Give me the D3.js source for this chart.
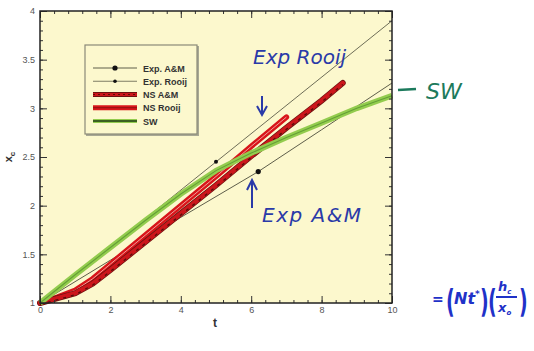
<!DOCTYPE html>
<html lang="en">
<head>
    <meta charset="UTF-8">
    <title>x_c vs t</title>
    <script src="https://d3js.org/d3.v7.min.js"></script>
    <style>
        body { margin: 0; background: #fff; font-family: "Liberation Sans", Arial, sans-serif; }
        svg { display: block; }
    </style>
</head>
<body>
    <div id="chart"></div>

    <script>
        // series
        const expAMT = [0, 2, 4, 6.2, 8, 10];
        const expAMX = [1, 1.44, 1.88, 2.35, 2.78, 3.26];
        const expAMMarkT = [6.2];
        const expAMMarkX = [2.35];

        const expRooijT = [0, 5, 10];
        const expRooijX = [1, 2.45, 3.9];
        const expRooijMarkT = [5];
        const expRooijMarkX = [2.45];

        const nsAMT = [0, 0.5, 1, 1.5, 2, 3, 4, 5, 6, 7, 8, 8.6];
        const nsAMX = [1, 1.05, 1.1, 1.2, 1.34, 1.63, 1.92, 2.21, 2.51, 2.8, 3.08, 3.26];

        const nsRooijT = [0, 0.5, 1, 1.5, 2, 3, 4, 5, 6, 7];
        const nsRooijX = [1, 1.06, 1.13, 1.25, 1.4, 1.7, 2.0, 2.3, 2.61, 2.91];

        const swT = [0, 1, 2, 3, 4, 5, 6, 7, 8, 9, 10];
        const swX = [1, 1.29, 1.57, 1.85, 2.12, 2.36, 2.54, 2.7, 2.85, 3.0, 3.13];

        const legendLabels = ["Exp. A&M", "Exp. Rooij", "NS A&M", "NS Rooij", "SW"];
        const xTicks = [0, 2, 4, 6, 8, 10];
        const yTicks = [1, 1.5, 2, 2.5, 3, 3.5, 4];

        const W = 534, H = 351;
        const pLeft = 40, pRight = 392, pTop = 11, pBottom = 303;

        const svg = d3.select("#chart").append("svg")
            .attr("width", W).attr("height", H);

        const x = d3.scaleLinear().domain([0, 10]).range([pLeft, pRight]);
        const y = d3.scaleLinear().domain([1, 4]).range([pBottom, pTop]);

        // plot background
        svg.append("rect")
            .attr("x", pLeft).attr("y", pTop)
            .attr("width", pRight - pLeft).attr("height", pBottom - pTop)
            .attr("fill", "#fcf8cd");

        const line = d3.line().x(d => x(d[0])).y(d => y(d[1]));
        const pts = (ts, xs) => ts.map((t, i) => [t, xs[i]]);

        const g = svg.append("g");

        // experimental lines
        g.append("path").datum(pts(expRooijT, expRooijX))
            .attr("d", line).attr("fill", "none")
            .attr("stroke", "#5e5e4a").attr("stroke-width", 0.9);
        g.append("path").datum(pts(expAMT, expAMX))
            .attr("d", line).attr("fill", "none")
            .attr("stroke", "#5e5e4a").attr("stroke-width", 1);

        // NS Rooij
        const rooij = pts(nsRooijT, nsRooijX);
        g.append("path").datum(rooij).attr("d", line).attr("fill", "none")
            .attr("stroke", "#d8151a").attr("stroke-width", 5.5).attr("stroke-linecap", "round");
        g.append("path").datum(rooij).attr("d", line).attr("fill", "none")
            .attr("stroke", "#f7c0b8").attr("stroke-width", 1).attr("opacity", 0.8);

        // NS A&M
        const am = pts(nsAMT, nsAMX);
        g.append("path").datum(am).attr("d", line).attr("fill", "none")
            .attr("stroke", "#6e1210").attr("stroke-width", 6).attr("stroke-linecap", "round");
        g.append("path").datum(am).attr("d", line).attr("fill", "none")
            .attr("stroke", "#cc161b").attr("stroke-width", 4.5).attr("stroke-linecap", "round");
        g.append("path").datum(am).attr("d", line).attr("fill", "none")
            .attr("stroke", "#5a0e0a").attr("stroke-width", 1.4)
            .attr("stroke-dasharray", "3,5")
            .attr("transform", "translate(0,1.5)");

        // SW
        const sw = pts(swT, swX);
        g.append("path").datum(sw).attr("d", line).attr("fill", "none")
            .attr("stroke", "#93cc4e").attr("stroke-width", 5.5);
        g.append("path").datum(sw).attr("d", line).attr("fill", "none")
            .attr("stroke", "#64a035").attr("stroke-width", 1.1);

        // markers
        g.selectAll(".mark-am").data(pts(expAMMarkT, expAMMarkX)).enter()
            .append("circle").attr("cx", d => x(d[0])).attr("cy", d => y(d[1]))
            .attr("r", 2.6).attr("fill", "#111");
        g.selectAll(".mark-rooij").data(pts(expRooijMarkT, expRooijMarkX)).enter()
            .append("circle").attr("cx", d => x(d[0])).attr("cy", d => y(d[1]))
            .attr("r", 2).attr("fill", "#111");

        // axes with inward ticks
        const minorX = d3.range(0, 10.01, 0.4).map(v => +v.toFixed(2));
        const minorY = d3.range(1, 4.001, 0.1).map(v => +v.toFixed(2));

        function styleAxis(sel) {
            sel.select(".domain").remove();
            sel.selectAll("line").attr("stroke", "#333");
            sel.selectAll("text").attr("fill", "#555").attr("font-size", 9)
                .attr("font-family", "Liberation Sans, Arial, sans-serif");
        }

        svg.append("g").attr("transform", `translate(0,${pBottom})`)
            .call(d3.axisBottom(x).tickValues(minorX).tickSize(-3).tickFormat(""))
            .call(styleAxis);
        svg.append("g").attr("transform", `translate(0,${pBottom})`)
            .call(d3.axisBottom(x).tickValues(xTicks).tickSize(-7).tickPadding(4).tickFormat(d3.format("d")))
            .call(styleAxis);
        svg.append("g").attr("transform", `translate(0,${pTop})`)
            .call(d3.axisTop(x).tickValues(minorX).tickSize(-3).tickFormat(""))
            .call(styleAxis);
        svg.append("g").attr("transform", `translate(0,${pTop})`)
            .call(d3.axisTop(x).tickValues(xTicks).tickSize(-7).tickFormat(""))
            .call(styleAxis);

        svg.append("g").attr("transform", `translate(${pLeft},0)`)
            .call(d3.axisLeft(y).tickValues(minorY).tickSize(-3).tickFormat(""))
            .call(styleAxis);
        svg.append("g").attr("transform", `translate(${pLeft},0)`)
            .call(d3.axisLeft(y).tickValues(yTicks).tickSize(-7).tickPadding(5).tickFormat(d => String(d)))
            .call(styleAxis);
        svg.append("g").attr("transform", `translate(${pRight},0)`)
            .call(d3.axisRight(y).tickValues(minorY).tickSize(-3).tickFormat(""))
            .call(styleAxis);
        svg.append("g").attr("transform", `translate(${pRight},0)`)
            .call(d3.axisRight(y).tickValues(yTicks).tickSize(-7).tickFormat(""))
            .call(styleAxis);

        // frame
        svg.append("rect")
            .attr("x", pLeft).attr("y", pTop)
            .attr("width", pRight - pLeft).attr("height", pBottom - pTop)
            .attr("fill", "none").attr("stroke", "#222").attr("stroke-width", 1.5);

        // axis titles
        svg.append("text").attr("x", 215).attr("y", 327)
            .attr("text-anchor", "middle").attr("font-size", 12).attr("font-weight", "bold")
            .attr("fill", "#333").text("t");
        const yt = svg.append("text")
            .attr("transform", "translate(12,157) rotate(-90)")
            .attr("text-anchor", "middle").attr("font-size", 11).attr("font-weight", "bold")
            .attr("fill", "#333");
        yt.append("tspan").text("x");
        yt.append("tspan").attr("font-size", 8).attr("dy", 3).text("c");

        // legend
        const lg = svg.append("g");
        lg.append("rect").attr("x", 86).attr("y", 46).attr("width", 113).attr("height", 90)
            .attr("fill", "#a8a894");
        lg.append("rect").attr("x", 85).attr("y", 45).attr("width", 112).attr("height", 89)
            .attr("fill", "#fcf8cd").attr("stroke", "#8a8a78").attr("stroke-width", 1.2);
        const rowY = d3.scalePoint().domain(legendLabels).range([68, 121]);
        legendLabels.forEach((lab, i) => {
            const yy = rowY(lab);
            const seg = [[93, yy], [137, yy]];
            const l2 = d3.line();
            if (i === 0 || i === 1) {
                lg.append("path").attr("d", l2(seg)).attr("stroke", "#5e5e4a").attr("stroke-width", i === 0 ? 1 : 0.8);
                lg.append("circle").attr("cx", 115).attr("cy", yy).attr("r", i === 0 ? 2.6 : 1.8).attr("fill", "#111");
            } else if (i === 2) {
                lg.append("path").attr("d", l2(seg)).attr("stroke", "#6e1210").attr("stroke-width", 5);
                lg.append("path").attr("d", l2(seg)).attr("stroke", "#cc161b").attr("stroke-width", 3);
                lg.append("path").attr("d", l2(seg)).attr("stroke", "#5a0e0a").attr("stroke-width", 1.2).attr("stroke-dasharray", "2,3");
            } else if (i === 3) {
                lg.append("path").attr("d", l2(seg)).attr("stroke", "#d8151a").attr("stroke-width", 5);
                lg.append("path").attr("d", l2(seg)).attr("stroke", "#8a1010").attr("stroke-width", 1);
            } else {
                lg.append("path").attr("d", l2(seg)).attr("stroke", "#93cc4e").attr("stroke-width", 4);
                lg.append("path").attr("d", l2(seg)).attr("stroke", "#1f3d14").attr("stroke-width", 1.5);
            }
            lg.append("text").attr("x", 143).attr("y", yy + 3.5)
                .attr("font-size", 9).attr("font-weight", "bold").attr("fill", "#333")
                .text(lab);
        });

        // handwritten annotations
        const ink = "#2a3aa8";
        svg.append("text").attr("x", 253).attr("y", 64)
            .attr("font-size", 20).attr("fill", ink).attr("font-family", "DejaVu Sans, sans-serif")
            .attr("font-style", "italic").text("Exp Rooij");
        svg.append("path").attr("d", "M262,96 L262,114").attr("stroke", ink).attr("stroke-width", 2);
        svg.append("path").attr("d", "M257,106 L262,115 L267,106").attr("fill", "none").attr("stroke", ink).attr("stroke-width", 2);

        svg.append("text").attr("x", 262).attr("y", 222)
            .attr("font-size", 20).attr("fill", ink).attr("font-family", "DejaVu Sans, sans-serif")
            .attr("font-style", "italic").attr("letter-spacing", 1.5).text("Exp A&M");
        svg.append("path").attr("d", "M252,208 L252,181").attr("stroke", ink).attr("stroke-width", 2);
        svg.append("path").attr("d", "M247,190 L252,180 L257,190").attr("fill", "none").attr("stroke", ink).attr("stroke-width", 2);

        const teal = "#1c7a5c";
        svg.append("path").attr("d", "M398,90 L416,89").attr("stroke", teal).attr("stroke-width", 2.5);
        svg.append("text").attr("x", 426).attr("y", 99)
            .attr("font-size", 22).attr("fill", teal).attr("font-family", "DejaVu Sans, sans-serif")
            .attr("font-style", "italic").text("SW");

        // formula, parentheses drawn as stretched glyphs
        const blue = "#1f32c8";
        const fg = svg.append("g").attr("fill", blue).attr("font-family", "DejaVu Sans, sans-serif")
            .attr("font-weight", "bold");
        fg.append("text").attr("x", 432).attr("y", 304).attr("font-size", 14).text("=");
        const paren = (px, ch) => fg.append("text")
            .attr("transform", `translate(${px},312) scale(1,1.7)`)
            .attr("font-size", 19).attr("font-weight", "bold").text(ch);
        paren(446, "(");
        const nt = fg.append("text").attr("x", 454).attr("y", 304).attr("font-size", 16).attr("font-style", "italic");
        nt.append("tspan").text("Nt");
        nt.append("tspan").attr("font-size", 9).attr("dy", -7).text("*");
        paren(480, ")");
        paren(488, "(");
        const hc = fg.append("text").attr("x", 498).attr("y", 291).attr("font-size", 13).attr("font-style", "italic");
        hc.append("tspan").text("h");
        hc.append("tspan").attr("font-size", 7).attr("dy", 3).text("c");
        fg.append("path").attr("d", "M496,297 L517,297").attr("stroke", blue).attr("stroke-width", 2);
        const xc = fg.append("text").attr("x", 498).attr("y", 312).attr("font-size", 13).attr("font-style", "italic");
        xc.append("tspan").text("x");
        xc.append("tspan").attr("font-size", 7).attr("dy", 3).text("o");
        paren(519, ")");
    </script>
</body>
</html>
